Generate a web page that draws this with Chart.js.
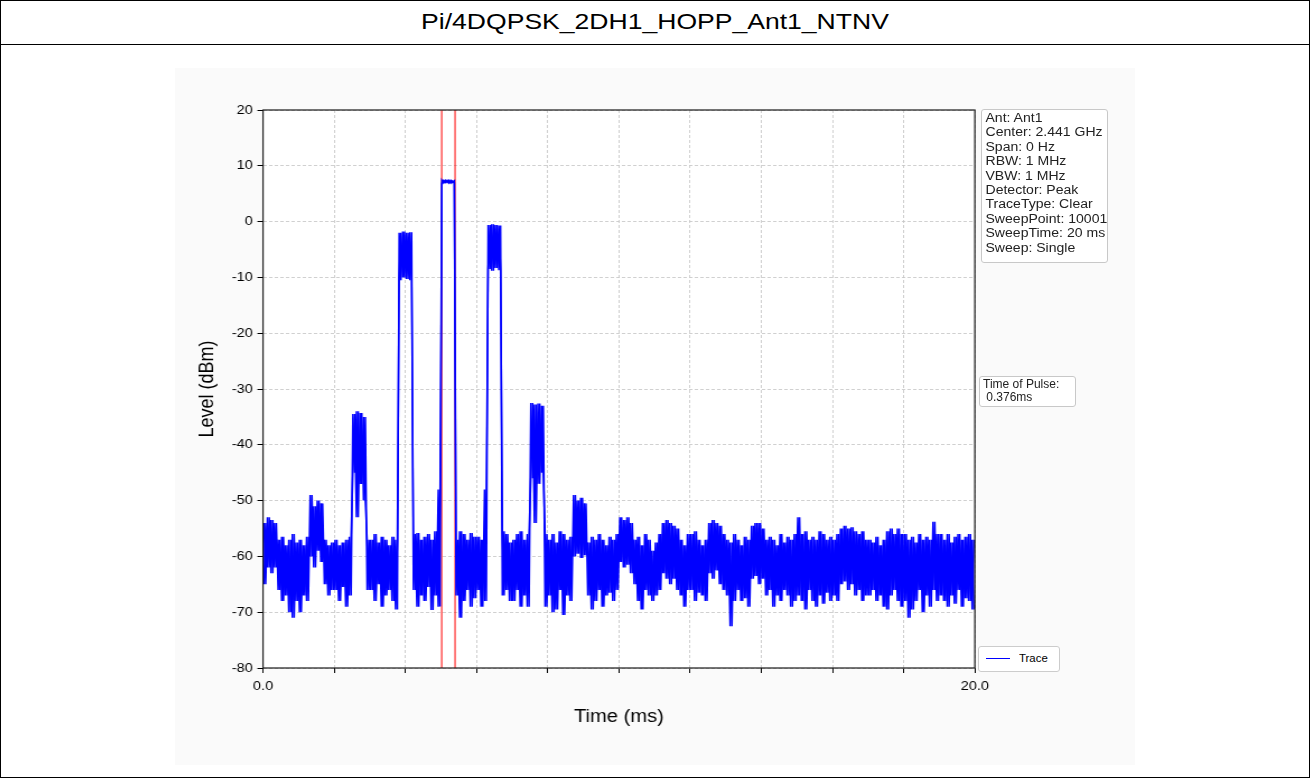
<!DOCTYPE html>
<html>
<head>
<meta charset="utf-8">
<script src="https://cdn.jsdelivr.net/npm/chart.js@4/dist/chart.umd.min.js"></script>
<style>
  html, body { margin: 0; padding: 0; background: #fff; }
  body { width: 1310px; height: 778px; position: relative; overflow: hidden;
         font-family: "Liberation Sans", Arial, sans-serif; color: #000; }
  #frame { position: absolute; left: 0; top: 0; width: 1308px; height: 776px; border: 1px solid #000; }
  #title { position: absolute; left: 0; top: 0; width: 1310px; height: 44px; border-bottom: 1px solid #000; }
  #title span { display: block; text-align: center; line-height: 44px; font-size: 22.5px;
                transform: scaleX(1.18); transform-origin: 655px 0; }
  #wrap { position: absolute; left: 175px; top: 68px; width: 960px; height: 697px; background: #fafafa; }
  #stretch { position: absolute; left: 0; top: 0; transform: scaleX(1.12); transform-origin: 0 0; }
  .box { position: absolute; border: 1px solid #c8c8c8; border-radius: 3px; background: #fff; color: #222; }
  .box div { white-space: pre; transform-origin: 0 0; }
  #info div { font-size: 12px; line-height: 14.4px; transform: scaleX(1.17); padding: 1px 3px; }
  #pulse div { font-size: 12px; line-height: 13.4px; padding: 1px 3px; }
  #legend { position: absolute; left: 978px; top: 646px; width: 80px; height: 24px; border: 1px solid #ccc;
            border-radius: 3px; background: #fff; font-size: 10px; }
  #legend i { position: absolute; left: 7px; top: 11px; width: 24px; height: 0; border-top: 1.5px solid #0000ff; }
  #legend span { position: absolute; left: 40px; top: 6px; transform: scaleX(1.14); transform-origin: 0 0; }
</style>
</head>
<body>
<div id="frame"></div>
<div id="title"><span></span></div>
<div id="wrap"><div id="stretch"><canvas id="chart" width="857" height="697"></canvas></div></div>
<div class="box" id="info" style="left:981px;top:109px;width:125px;height:152px;"><div></div></div>
<div class="box" id="pulse" style="left:979px;top:376px;width:95px;height:29px;"><div></div></div>
<div id="legend"><i></i><span></span></div>
<script>
// ===== 데이터 (0.1 ms 간격 열마다 상단/하단 레벨, dBm) =====
const chartTitle = "Pi/4DQPSK_2DH1_HOPP_Ant1_NTNV";
const colStep = 0.1; // ms
const traceHi = [
  -54, -53, -53.5, -54, -57, -56.5, -58, -57, -56, -57.5,
  -57, -58, -56.5, -49, -51, -50, -50.5, -57, -58, -57.5,
  -57, -58, -57.5, -57, -56.5, -34.5, -34, -34.3, -35, -57,
  -57, -56, -57.5, -56.5, -57, -58, -56.5, -57, -2, -1.8,
  -2, -1.9, -56, -55.8, -57, -56.5, -56, -57, -55.5, -48,
  7.4, 7.4, 7.4, 7.3, -57, -55.5, -56, -57, -55.8, -56.5,
  -56.5, -57, -48, -0.6, -0.5, -0.6, -0.7, -55.5, -56, -57.5,
  -57, -56, -55.5, -57, -56, -32.5, -32.8, -32.6, -33, -56,
  -57, -56, -57.5, -55.5, -56, -57, -56.5, -49, -50, -49.5,
  -50.5, -57.5, -56.5, -57, -56, -57, -58, -56.5, -57, -56,
  -53, -53.5, -53, -54, -57, -56.5, -58, -56, -57, -59,
  -57.5, -56, -54, -53.5, -54, -54.5, -55, -57, -58, -56,
  -56, -55.5, -57, -58, -57, -54, -53.5, -54, -54.5, -56,
  -57, -57.5, -56, -57, -58, -56.5, -57, -54.5, -54, -54,
  -55, -57, -56.5, -57, -58, -56, -57.5, -56.5, -57, -56,
  -53, -56, -55.5, -57, -56.5, -57, -55.5, -56, -57, -56.5,
  -57, -56, -55, -54.5, -55, -54.8, -55.5, -56, -55.5, -57,
  -57, -57.5, -56.5, -58, -57, -55.5, -55, -56, -55, -56,
  -56, -57, -56.5, -57.5, -56, -57, -56.5, -57, -53.8, -56,
  -56, -57, -56, -57.5, -56.5, -56, -57, -56.5, -56, -57
];
const traceLo = [
  -65, -62, -63, -62, -66, -68, -67, -70, -71, -68,
  -70, -67, -68, -60, -62, -59, -61, -65, -67, -66,
  -66, -68, -65.5, -69, -67, -45, -53, -47, -50, -66,
  -66, -68, -65, -69, -67, -66, -68, -69.5, -10.5, -10,
  -10.3, -10.5, -66, -69, -67, -68, -65.5, -69.6, -67, -69,
  6.9, 7.0, 6.9, 7.0, -67, -71, -68, -66, -69, -67.5,
  -66, -69, -68, -8.5, -8.8, -8.3, -8.7, -67, -66, -68,
  -68, -66, -69, -67, -69, -46, -54, -47, -45, -69,
  -67, -70, -69.5, -66, -70.5, -67, -68, -60, -59.5, -60.3,
  -59.8, -67, -69.5, -68, -66, -69, -67, -66.5, -68, -66,
  -61, -62, -61.5, -63, -65, -68, -69.5, -66, -67, -68,
  -67, -66, -63, -64, -65, -64, -66, -67, -69, -66,
  -66, -68, -66.5, -67, -68, -63, -64, -62.5, -65, -66,
  -67, -72.5, -68, -66, -68, -67.5, -69, -64, -63.5, -65,
  -64, -67, -66, -69, -67, -68, -66, -67, -69, -68,
  -67, -68, -69.5, -66, -68, -69, -67, -68.5, -66.5, -68,
  -67, -68, -65, -64.5, -66, -65, -67, -66, -68, -67,
  -67, -66, -68, -67, -69, -69.5, -67, -66, -68, -69,
  -68, -71, -69.5, -68, -66, -70, -67, -69, -66, -68,
  -67, -68, -69, -67, -68.5, -66, -69, -67.5, -68, -69.5
];
const markerTimes = [5.02, 5.396]; // 펄스 시작/끝 (ms)
const pulseText = "Time of Pulse:\n 0.376ms";
const infoLines = [
  "Ant: Ant1", "Center: 2.441 GHz", "Span: 0 Hz", "RBW: 1 MHz", "VBW: 1 MHz",
  "Detector: Peak", "TraceType: Clear", "SweepPoint: 10001", "SweepTime: 20 ms", "Sweep: Single"
];
const xMin = 0, xMax = 20, xStep = 2;
const yMin = -80, yMax = 20, yStep = 10;

// 가로 늘림 비율 (원본 이미지가 가로로 늘어나 있음)
const SX = 1.12;

// ===== 트레이스 포인트: 상단/하단 지그재그 두 위상 + 사이 채움 =====
const tracePts = [];
const tracePts2 = [];
traceHi.forEach((hi, i) => {
  const t = i * colStep;
  tracePts.push({ x: t + colStep * 0.25, y: hi });
  tracePts.push({ x: t + colStep * 0.75, y: traceLo[i] });
  tracePts2.push({ x: t + colStep * 0.25, y: traceLo[i] });
  tracePts2.push({ x: t + colStep * 0.75, y: hi });
});

document.querySelector("#title span").textContent = chartTitle;
document.querySelector("#info div").textContent = infoLines.join("\n");
document.querySelector("#pulse div").textContent = pulseText;
document.querySelector("#legend span").textContent = "Trace";

const plotFrame = {
  id: "plotFrame",
  beforeDraw(c) {
    const a = c.chartArea, ctx = c.ctx;
    ctx.save();
    ctx.fillStyle = "#fff";
    ctx.fillRect(a.left, a.top, a.right - a.left, a.bottom - a.top);
    ctx.restore();
  },
  afterDraw(c) {
    const a = c.chartArea, ctx = c.ctx;
    ctx.save();
    ctx.strokeStyle = "#1a1a1a";
    ctx.lineWidth = 1.2;
    ctx.strokeRect(a.left, a.top, a.right - a.left, a.bottom - a.top);
    ctx.restore();
  }
};

const font = "'Liberation Sans', Arial, sans-serif";
const gridCommon = { color: "#c4c4c4", lineWidth: 0.8, tickLength: 5, tickColor: "#000",
                     tickWidth: 1, tickBorderDash: [] };
const traceStyle = { borderColor: "#0000ff", borderWidth: 1.5, pointRadius: 0, tension: 0 };

new Chart(document.getElementById("chart"), {
  type: "line",
  data: {
    datasets: [
      { label: "Trace", data: tracePts, ...traceStyle, fill: "+1", backgroundColor: "#0000ff" },
      { label: "Trace", data: tracePts2, ...traceStyle, fill: false },
      ...markerTimes.map((t) => ({
        label: "marker", data: [{ x: t, y: yMin }, { x: t, y: yMax }],
        borderColor: "#ff0000", borderWidth: 1, pointRadius: 0, fill: false
      }))
    ]
  },
  options: {
    responsive: false,
    animation: false,
    events: [],
    layout: { padding: { left: 0, top: 42, right: 160 / SX, bottom: 0 } },
    plugins: { legend: { display: false }, tooltip: { enabled: false },
               filler: { propagate: false } },
    scales: {
      x: {
        type: "linear", min: xMin, max: xMax,
        afterFit: (s) => { s.height = 97; },
        ticks: { stepSize: xStep, autoSkip: false, maxRotation: 0, padding: 6, color: "#000",
                 font: { family: font, size: 13 },
                 callback: (v) => (v === xMin || v === xMax ? v.toFixed(1) : "") },
        grid: gridCommon,
        border: { display: false, dash: [3, 2] },
        title: { display: true, text: "Time (ms)", color: "#000",
                 font: { family: font, size: 18 }, padding: { top: 0, bottom: 37 } }
      },
      y: {
        min: yMin, max: yMax,
        afterFit: (s) => { s.width = 88 / SX; },
        ticks: { stepSize: yStep, padding: 4, color: "#000", font: { family: font, size: 13 } },
        grid: gridCommon,
        border: { display: false, dash: [3, 2] },
        title: { display: true, text: "Level (dBm)", color: "#000",
                 font: { family: font, size: 18 }, padding: { top: 18.5, bottom: 0 } }
      }
    }
  },
  plugins: [plotFrame]
});
</script>
</body>
</html>
